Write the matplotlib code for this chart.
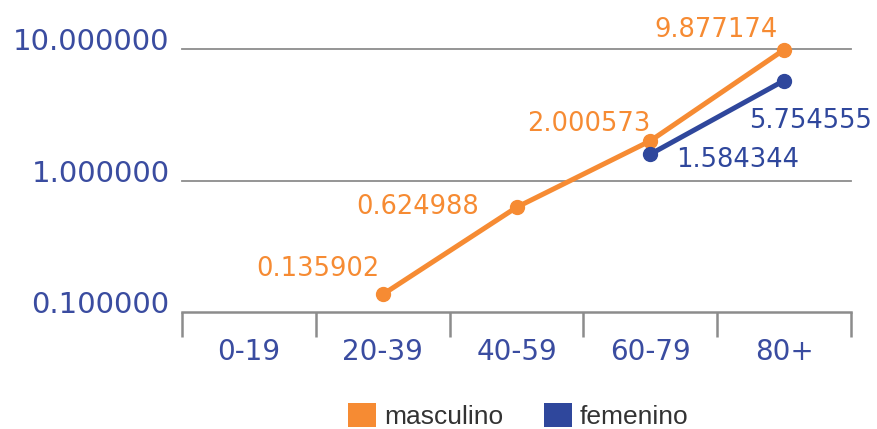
import matplotlib.pyplot as plt
import matplotlib.transforms as mtransforms
from matplotlib.patches import Patch
import numpy as np

categories = ["0-19", "20-39", "40-59", "60-79", "80+"]
masculino = [np.nan, 0.135902, 0.624988, 2.000573, 9.877174]
femenino = [np.nan, np.nan, np.nan, 1.584344, 5.754555]
y_ticks = [0.1, 1, 10]
y_labels = ["0.100000", "1.000000", "10.000000"]

orange = "#f68b33"
blue = "#2f479c"
axis_blue = "#3a4ca0"
grid_gray = "#8c8c8c"

plt.rcParams['font.family'] = ['DejaVu Sans']

fig = plt.figure(figsize=(8.77, 4.29), dpi=100)
ax = fig.add_axes([182/877, 1 - 312/429, (851 - 182)/877, (312 - 49)/429])

x = np.arange(len(categories))
ax.plot(x, masculino, color=orange, lw=3.6, marker='o', ms=10, clip_on=False, zorder=3)
ax.plot(x, femenino, color=blue, lw=3.6, marker='o', ms=10, clip_on=False, zorder=3)

ax.set_yscale('log')
ax.set_ylim(0.1, 10)
ax.set_xlim(-0.5, len(categories) - 0.5)

# gridlines at 1 and 10
for v in [1, 10]:
    ax.axhline(v, color=grid_gray, lw=1.3, zorder=1, clip_on=False)

for s in ['top', 'right', 'left']:
    ax.spines[s].set_visible(False)
ax.spines['bottom'].set_color(grid_gray)
ax.spines['bottom'].set_linewidth(1.8)

ax.set_yticks(y_ticks)
ax.set_yticklabels(y_labels)
ax.yaxis.set_minor_locator(plt.NullLocator())
ax.tick_params(axis='y', length=0, pad=9, labelsize=21, labelcolor=axis_blue)
offset = mtransforms.ScaledTranslation(0, 7/72, fig.dpi_scale_trans)
for lab in ax.get_yticklabels():
    lab.set_transform(lab.get_transform() + offset)

ax.set_xticks(np.arange(len(categories) + 1) - 0.5)
ax.set_xticklabels([])
ax.tick_params(axis='x', which='major', length=18, width=1.8, color=grid_gray)
ax.set_xticks(x, minor=True)
ax.set_xticklabels(categories, minor=True)
ax.tick_params(axis='x', which='minor', length=0, pad=19, labelsize=20, labelcolor=axis_blue)

# data labels (offsets in points)
m_offsets = [None, (-47, 18), (-71, 0), (-44, 12), (-49, 14)]
f_offsets = [None, None, None, (63, -4), (19, -29)]
for i, v in enumerate(masculino):
    if not np.isnan(v):
        ax.annotate(f"{v:.6f}", (x[i], v), xytext=m_offsets[i], textcoords='offset points',
                    ha='center', va='center', fontsize=18.5, color=orange, annotation_clip=False)
for i, v in enumerate(femenino):
    if not np.isnan(v):
        ax.annotate(f"{v:.6f}", (x[i], v), xytext=f_offsets[i], textcoords='offset points',
                    ha='center', va='center', fontsize=18.5, color=blue, annotation_clip=False)

handles = [Patch(facecolor=orange, label="masculino"), Patch(facecolor=blue, label="femenino")]
fig.legend(handles=handles, loc='center', bbox_to_anchor=(0.591, 0.03), ncol=2, frameon=False,
           prop={'family': 'Liberation Sans', 'size': 19}, handlelength=1.05, handleheight=1.0,
           handletextpad=0.3, columnspacing=1.55, labelcolor='#333333', borderpad=0)

fig.savefig("out.png", dpi=100)
